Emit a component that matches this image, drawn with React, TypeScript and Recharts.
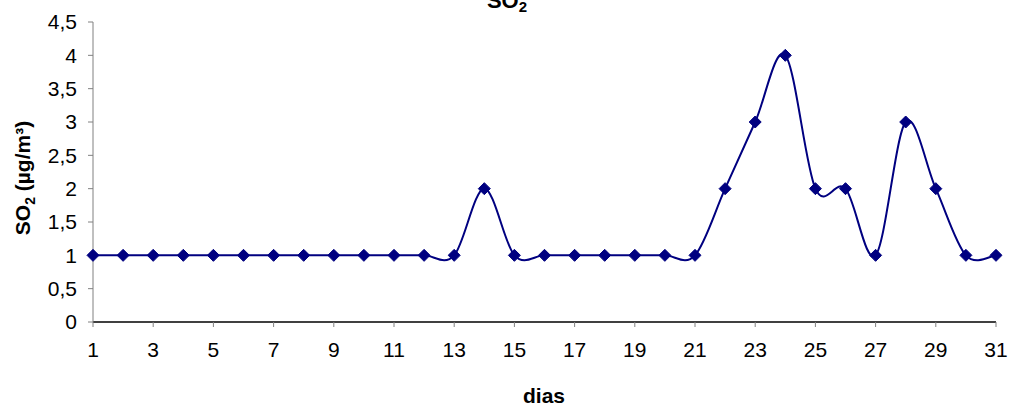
import React from 'react';
import { LineChart, Line, XAxis, YAxis, Label } from 'recharts';

const days = [1, 2, 3, 4, 5, 6, 7, 8, 9, 10, 11, 12, 13, 14, 15, 16, 17, 18, 19, 20, 21, 22, 23, 24, 25, 26, 27, 28, 29, 30, 31];
const so2 = [1, 1, 1, 1, 1, 1, 1, 1, 1, 1, 1, 1, 1, 2, 1, 1, 1, 1, 1, 1, 1, 2, 3, 4, 2, 2, 1, 3, 2, 1, 1];
const xTicks = [1, 3, 5, 7, 9, 11, 13, 15, 17, 19, 21, 23, 25, 27, 29, 31];
const yTicks = [0, 0.5, 1, 1.5, 2, 2.5, 3, 3.5, 4, 4.5];

const data = days.map((d, i) => ({ day: d, so2: so2[i] }));

const NAVY = '#000080';
const FONT = '"Liberation Sans", Arial, sans-serif';

// Excel-style smoothed line (Catmull-Rom as cubic bezier)
const excelSmooth: any = (ctx: any) => {
  let pts: number[][] = [];
  return {
    areaStart() {},
    areaEnd() {},
    lineStart() {
      pts = [];
    },
    point(x: number, y: number) {
      pts.push([+x, +y]);
    },
    lineEnd() {
      if (!pts.length) return;
      ctx.moveTo(pts[0][0], pts[0][1]);
      for (let i = 0; i < pts.length - 1; i++) {
        const p0 = pts[i - 1] || pts[i];
        const p1 = pts[i];
        const p2 = pts[i + 1];
        const p3 = pts[i + 2] || pts[i + 1];
        ctx.bezierCurveTo(
          p1[0] + (p2[0] - p0[0]) / 6,
          p1[1] + (p2[1] - p0[1]) / 6,
          p2[0] - (p3[0] - p1[0]) / 6,
          p2[1] - (p3[1] - p1[1]) / 6,
          p2[0],
          p2[1]
        );
      }
    },
  };
};

const Diamond = (props: any) => {
  const { cx, cy, index } = props;
  const r = 6;
  return (
    <polygon
      key={`d-${index}`}
      points={`${cx},${cy - r} ${cx + r},${cy} ${cx},${cy + r} ${cx - r},${cy}`}
      fill={NAVY}
      stroke={NAVY}
    />
  );
};

const tickStyle = { fill: '#000', fontSize: 21, fontFamily: FONT };

export default function App() {
  return (
    <div style={{ position: 'absolute', left: 0, top: 0, width: 1012, height: 409, background: '#fff' }}>
      <LineChart width={1012} height={409} data={data} margin={{ top: 22, right: 16, left: 0, bottom: 0 }}>
        <XAxis
          dataKey="day"
          type="number"
          domain={[1, 31]}
          ticks={xTicks}
          interval={0}
          height={87}
          tickSize={5}
          tickMargin={15}
          axisLine={{ stroke: '#000', strokeWidth: 1.5 }}
          tickLine={{ stroke: '#808080' }}
          tick={tickStyle}
        >
          <Label
            content={() => (
              <text x={544} y={403} textAnchor="middle" fontFamily={FONT} fontWeight="bold" fontSize={21} fill="#000">
                dias
              </text>
            )}
          />
        </XAxis>
        <YAxis
          type="number"
          domain={[0, 4.5]}
          ticks={yTicks}
          interval={0}
          width={93}
          tickSize={5}
          tickMargin={11}
          axisLine={{ stroke: '#808080' }}
          tickLine={{ stroke: '#808080' }}
          tick={tickStyle}
          tickFormatter={(v: number) => String(v).replace('.', ',')}
        >
          <Label
            content={() => (
              <text
                x={30}
                y={178}
                transform="rotate(-90 30 178)"
                textAnchor="middle"
                fontFamily={FONT}
                fontWeight="bold"
                fontSize={21}
                fill="#000"
              >
                SO<tspan fontSize={14} dy={5}>2</tspan>
                <tspan dy={-5}> (µg/m³)</tspan>
              </text>
            )}
          />
        </YAxis>
        <Line
          dataKey="so2"
          type={excelSmooth}
          stroke={NAVY}
          strokeWidth={2}
          dot={Diamond}
          activeDot={false}
          isAnimationActive={false}
        />
      </LineChart>
      <svg width={1012} height={30} style={{ position: 'absolute', left: 0, top: 0 }}>
        <text x={507} y={8} textAnchor="middle" fontFamily={FONT} fontWeight="bold" fontSize={22} fill="#000">
          SO<tspan fontSize={15} dy={4}>2</tspan>
        </text>
      </svg>
    </div>
  );
}
